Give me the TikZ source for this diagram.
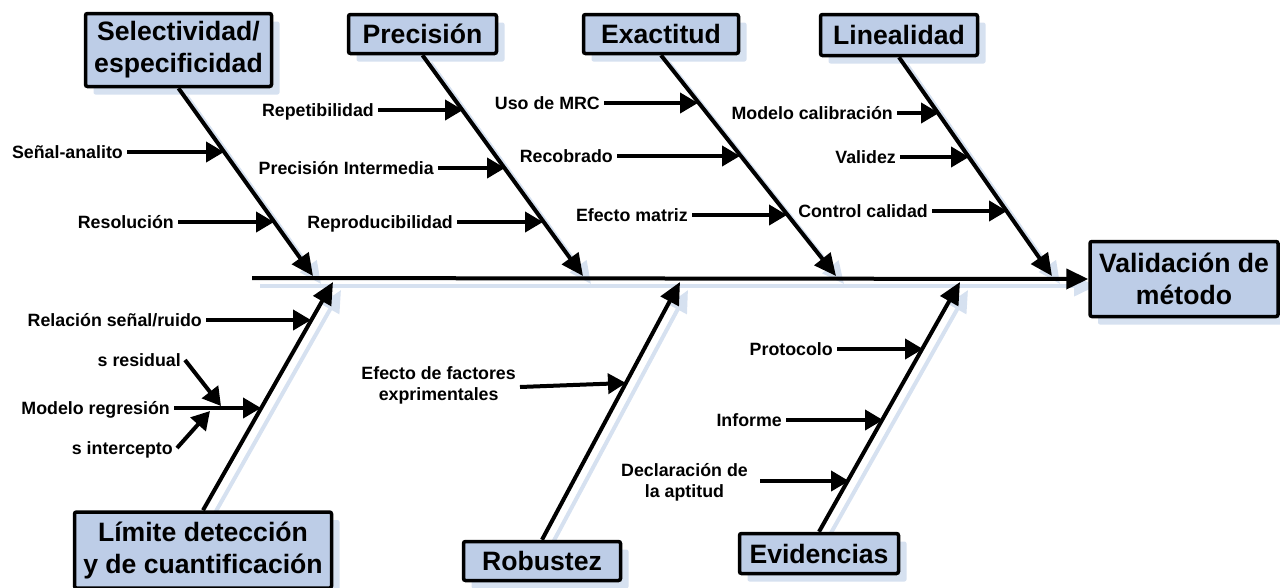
\documentclass[tikz,border=0pt]{standalone}
\usepackage{fontspec}
\setmainfont{Liberation Sans}
\usetikzlibrary{arrows.meta,shadows}
\definecolor{boxc}{RGB}{189,205,231}
\definecolor{shadc}{RGB}{214,225,240}
\begin{document}
\begin{tikzpicture}[x=1pt,y=-1pt,
 box/.style={draw=black, line width=3.5pt, rounded corners=2pt, fill=boxc,
   font=\bfseries\fontsize{26.6}{32}\selectfont, align=center, inner sep=0pt,
   drop shadow={shadow xshift=8pt, shadow yshift=-8pt, fill=shadc, opacity=1}},
 lbl/.style={font=\bfseries\fontsize{17.8}{21}\selectfont, inner sep=4pt, text height=12.8pt, text depth=0pt},
 lbltwo/.style={font=\bfseries\fontsize{17.8}{21}\selectfont, inner sep=4pt, align=center},
 sub/.style={line width=4pt, -{Triangle[length=18pt,width=20pt]}},
 bone/.style={line width=4pt, -{Triangle[length=22pt,width=20pt]}},
 shbone/.style={bone, color=shadc},
]
\useasboundingbox (0,0) rectangle (1280,587);

% named points
\coordinate (sp0) at (252,278);
\coordinate (t1) at (313,276);
\coordinate (t2) at (583,276);
\coordinate (t3) at (836,276);
\coordinate (t4) at (1052,276);
\coordinate (b1) at (333,282);
\coordinate (b2) at (680,282);
\coordinate (b3) at (960,282);

% line shadows
\draw[shbone] ([shift={(8,8)}]sp0) -- ([shift={(8,8)}]1088,278);
\draw[shbone] ([shift={(8,8)}]178.5,88) -- ([shift={(8,8)}]t1);
\draw[shbone] ([shift={(8,8)}]422.5,55) -- ([shift={(8,8)}]t2);
\draw[shbone] ([shift={(8,8)}]661,55) -- ([shift={(8,8)}]t3);
\draw[shbone] ([shift={(8,8)}]899,57) -- ([shift={(8,8)}]t4);
\draw[shbone] ([shift={(8,8)}]203,512) -- ([shift={(8,8)}]b1);
\draw[shbone] ([shift={(8,8)}]542,540) -- ([shift={(8,8)}]b2);
\draw[shbone] ([shift={(8,8)}]819,532) -- ([shift={(8,8)}]b3);

% boxes
\node[box, minimum width=186pt, minimum height=73pt] (sel) at (178.5,50) {Selectividad/\\especificidad};
\node[box, minimum width=148pt, minimum height=39pt] (pre) at (422.5,34) {Precisión};
\node[box, minimum width=155pt, minimum height=39pt] (exa) at (661,34) {Exactitud};
\node[box, minimum width=157pt, minimum height=41pt] (lin) at (899,35) {Linealidad};
\node[box, minimum width=188pt, minimum height=75pt] (val) at (1184,279) {Validación de\\método};
\node[box, minimum width=257pt, minimum height=76pt] (lim) at (203,550) {Límite detección\\y de cuantificación};
\node[box, minimum width=157pt, minimum height=39pt] (rob) at (542,561) {Robustez};
\node[box, minimum width=159pt, minimum height=40pt] (evi) at (819,553.5) {Evidencias};

% spine and bones
\draw[bone] (sp0) -- (val.west);
\draw[bone] (sel.south) -- (t1);
\draw[bone] (pre.south) -- (t2);
\draw[bone] (exa.south) -- (t3);
\draw[bone] (lin.south) -- (t4);
\draw[bone] (lim.north) -- (b1);
\draw[bone] (rob.north) -- (b2);
\draw[bone] (evi.north) -- (b3);

% sub causes
\node[lbl, anchor=east] (l1) at (127,152) {Señal-analito};
\coordinate (p1) at (224,152);
\draw[sub] (l1.east) -- (p1);
\node[lbl, anchor=east] (l2) at (178,222) {Resolución};
\coordinate (p2) at (274,222);
\draw[sub] (l2.east) -- (p2);

\node[lbl, anchor=east] (l3) at (378,110) {Repetibilidad};
\coordinate (p3) at (463,110);
\draw[sub] (l3.east) -- (p3);
\node[lbl, anchor=east] (l4) at (438,168) {Precisión Intermedia};
\coordinate (p4) at (505,168);
\draw[sub] (l4.east) -- (p4);
\node[lbl, anchor=east] (l5) at (457,222) {Reproducibilidad};
\coordinate (p5) at (543,222);
\draw[sub] (l5.east) -- (p5);

\node[lbl, anchor=east] (l6) at (604,103) {Uso de MRC};
\coordinate (p6) at (698,103);
\draw[sub] (l6.east) -- (p6);
\node[lbl, anchor=east] (l7) at (617,156) {Recobrado};
\coordinate (p7) at (740,156);
\draw[sub] (l7.east) -- (p7);
\node[lbl, anchor=east] (l8) at (692,215) {Efecto matriz};
\coordinate (p8) at (787,215);
\draw[sub] (l8.east) -- (p8);

\node[lbl, anchor=east] (l9) at (897,113) {Modelo calibración};
\coordinate (p9) at (939,113);
\draw[sub] (l9.east) -- (p9);
\node[lbl, anchor=east] (l10) at (900,157) {Validez};
\coordinate (p10) at (969,157);
\draw[sub] (l10.east) -- (p10);
\node[lbl, anchor=east] (l11) at (932,211) {Control calidad};
\coordinate (p11) at (1007,211);
\draw[sub] (l11.east) -- (p11);

\node[lbl, anchor=east] (l12) at (206,320) {Relación señal/ruido};
\coordinate (p12) at (311,320);
\draw[sub] (l12.east) -- (p12);
\node[lbl, anchor=east] (l13) at (174,408) {Modelo regresión};
\coordinate (p13) at (261,408);
\draw[sub] (l13.east) -- (p13);
\node[lbl, anchor=east] (l14) at (185,360) {s residual};
\coordinate (p14) at (221,406);
\draw[sub] (l14.east) -- (p14);
\node[lbl, anchor=east] (l15) at (177,448) {s intercepto};
\coordinate (p15) at (210,411);
\draw[sub] (l15.east) -- (p15);

\node[lbltwo, anchor=east] (l16) at (520,385) {Efecto de factores\\exprimentales};
\coordinate (p16) at (626,383);
\draw[sub] ([yshift=-2]l16.east) -- (p16);

\node[lbl, anchor=east] (l17) at (837,349) {Protocolo};
\coordinate (p17) at (923,349);
\draw[sub] (l17.east) -- (p17);
\node[lbl, anchor=east] (l18) at (786,420) {Informe};
\coordinate (p18) at (883,420);
\draw[sub] (l18.east) -- (p18);
\node[lbltwo, anchor=east] (l19) at (752,482) {Declaración de\\la aptitud};
\coordinate (p19) at (849,481);
\draw[sub] ([xshift=8]l19.east |- p19) -- (p19);
\end{tikzpicture}
\end{document}
